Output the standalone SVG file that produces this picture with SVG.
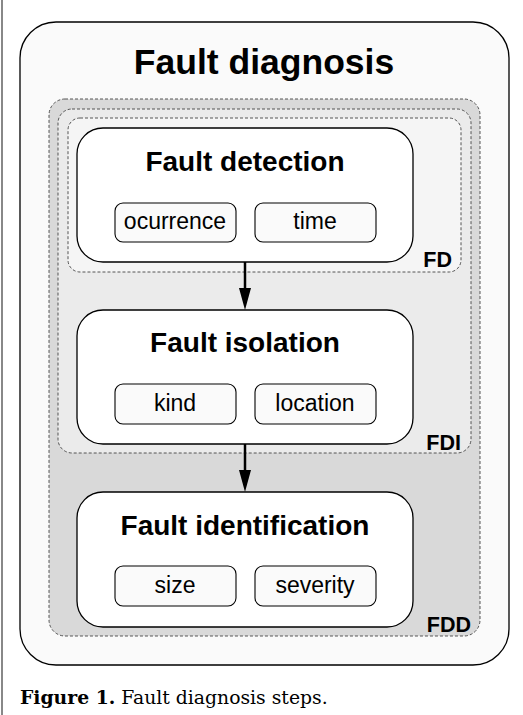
<svg xmlns="http://www.w3.org/2000/svg" width="523" height="715" viewBox="0 0 523 715">
<defs>
<style>
.node{fill:#fff;stroke:#000;stroke-width:1.3}
.sub{fill:#fafafa;stroke:#000;stroke-width:1.1}
.grp{stroke:#444;stroke-width:0.9;stroke-dasharray:3,2}
.t{font-family:"Liberation Sans",Arial,sans-serif;fill:#000;text-anchor:middle}
.h{font-weight:bold;font-size:28px}
.s{font-size:23px}
.lbl{font-family:"Liberation Sans",Arial,sans-serif;font-weight:bold;font-size:21.5px;text-anchor:end}
.conn{stroke:#000;stroke-width:2.5;fill:none}
</style>
</defs>
<rect width="523" height="715" fill="#fff"/>
<line x1="2" y1="0" x2="2" y2="715" stroke="#888" stroke-width="2"/>
<g id="fault-diagnosis">
<rect x="20" y="22" width="489" height="643" rx="36" fill="#fafafa" stroke="#000" stroke-width="1.3"/>
<text class="t" x="264" y="74" font-size="35.5" font-weight="bold">Fault diagnosis</text>
</g>
<g id="FDD">
<rect class="grp" x="49" y="99" width="431" height="537" rx="16" fill="#d9d9d9"/>
<text class="lbl" x="471" y="632">FDD</text>
</g>
<g id="FDI">
<rect class="grp" x="58" y="109" width="413" height="344" rx="14" fill="#ebebeb"/>
<text class="lbl" x="461" y="450">FDI</text>
</g>
<g id="FD">
<rect class="grp" x="68" y="118" width="393" height="154" rx="12" fill="#f5f5f5"/>
<text class="lbl" x="452" y="267">FD</text>
</g>
<g id="fault-detection">
<rect class="node" x="77" y="128" width="336" height="134" rx="26"/>
<text class="t h" x="245" y="171">Fault detection</text>
<rect class="sub" x="115" y="203" width="121" height="39" rx="8"/>
<text class="t s" x="175" y="229">ocurrence</text>
<rect class="sub" x="255" y="203" width="121" height="39" rx="8"/>
<text class="t s" x="315" y="229">time</text>
</g>
<g id="fault-isolation">
<rect class="node" x="77" y="310" width="336" height="134" rx="26"/>
<text class="t h" x="245" y="352">Fault isolation</text>
<rect class="sub" x="115" y="384" width="121" height="40" rx="8"/>
<text class="t s" x="175" y="411">kind</text>
<rect class="sub" x="255" y="384" width="121" height="40" rx="8"/>
<text class="t s" x="315" y="411">location</text>
</g>
<g id="fault-identification">
<rect class="node" x="77" y="492" width="336" height="135" rx="26"/>
<text class="t h" x="245" y="535">Fault identification</text>
<rect class="sub" x="115" y="566" width="121" height="40" rx="8"/>
<text class="t s" x="175" y="593">size</text>
<rect class="sub" x="255" y="566" width="121" height="40" rx="8"/>
<text class="t s" x="315" y="593">severity</text>
</g>
<g id="connectors">
<line class="conn" x1="245" y1="262" x2="245" y2="290"/>
<path d="M239,288 L251,288 L245,310 z" fill="#000"/>
<line class="conn" x1="245" y1="444" x2="245" y2="472"/>
<path d="M239,470 L251,470 L245,492 z" fill="#000"/>
</g>
<text x="20" y="704" font-family="'DejaVu Serif',serif" font-size="18.8" fill="#000"><tspan font-weight="bold">Figure 1.</tspan> Fault diagnosis steps.</text>
</svg>
